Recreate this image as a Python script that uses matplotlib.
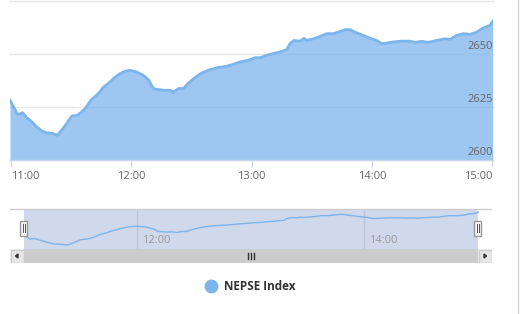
import matplotlib
matplotlib.use("Agg")
from matplotlib import pyplot as plt
from matplotlib.patches import Rectangle
from matplotlib.lines import Line2D
import numpy as np

# minutes after 11:00 and NEPSE index values
minutes = [-0.5, 3.3, 5.8, 7.8, 10.3, 12.8, 15.3, 17.8, 20.8, 23.1, 25.3, 27.8, 30.3,
           33.1, 35.3, 37.4, 39.8, 43.6, 46.0, 49.4, 51.9, 54.4, 56.9, 59.4, 62.7,
           66.0, 68.5, 71.0, 73.5, 76.8, 79.3, 81.0, 83.5, 86.0, 88.5, 91.8, 95.1,
           99.3, 103.4, 107.6, 110.9, 114.2, 118.4, 121.7, 124.2, 127.5, 130.8,
           134.2, 137.5, 139.2, 141.1, 144.2, 146.2, 147.5, 150.8, 153.3, 157.5,
           160.8, 163.3, 166.7, 169.1, 171.6, 175.7, 179.9, 182.4, 184.9, 187.4,
           190.7, 194.9, 199.0, 201.5, 204.9, 208.2, 212.3, 216.5, 219.0, 222.3,
           225.6, 229.0, 232.3, 234.8, 237.4, 239.0, 240.3]
index = [2628.1, 2621.4, 2622.2, 2620.0, 2618.0, 2615.6, 2613.7, 2612.8, 2612.5, 2611.6,
         2614.1, 2617.2, 2620.6, 2621.1, 2622.6, 2624.7, 2628.1, 2631.3, 2634.1, 2636.7,
         2639.0, 2640.6, 2641.7, 2642.2, 2641.4, 2639.8, 2637.8, 2633.6, 2633.1, 2632.8,
         2632.8, 2631.9, 2633.6, 2633.6, 2636.2, 2638.8, 2640.9, 2642.5, 2643.5, 2644.1,
         2645.0, 2646.1, 2646.9, 2648.1, 2648.1, 2649.2, 2650.0, 2650.8, 2651.9, 2654.7,
         2656.2, 2655.9, 2657.2, 2656.2, 2657.0, 2657.8, 2659.4, 2659.4, 2660.1, 2661.3,
         2661.3, 2660.1, 2658.6, 2657.0, 2656.2, 2654.7, 2655.0, 2655.5, 2655.9, 2655.9,
         2655.3, 2655.8, 2655.3, 2656.2, 2657.0, 2656.7, 2658.6, 2659.4, 2659.1, 2660.1,
         2661.7, 2662.8, 2663.3, 2665.3]
x_ticks = [0, 60, 120, 180, 240]
x_labels = ["11:00", "12:00", "13:00", "14:00", "15:00"]
y_ticks = [2600, 2625, 2650, 2675]
nav_ticks = [60, 180]
nav_labels = ["12:00", "14:00"]
series_name = "NEPSE Index"

plt.rcParams['font.family'] = ['Open Sans', 'DejaVu Sans']
W, H = 522, 314
fig = plt.figure(figsize=(W / 100, H / 100), dpi=100)

def px_axes(x0, y0, x1, y1):
    # pixel box (top-left origin) -> figure axes
    return fig.add_axes([x0 / W, 1 - y1 / H, (x1 - x0) / W, (y1 - y0) / H])

blue = '#7cb5ec'

# main chart
ax = px_axes(10, 0.5, 492.7, 160)
ax.fill_between(minutes, index, 2590, color=blue, alpha=0.75, lw=0)
ax.plot(minutes, index, color=blue, lw=2, solid_joinstyle='round')
ax.set_xlim(minutes[0], minutes[-1])
ax.set_ylim(2600, 2675)
for v in y_ticks:
    ax.axhline(v, color='#e6e6e6', lw=1, zorder=0, clip_on=False)
for v in y_ticks[:-1]:
    ax.text(minutes[-1], v + 0.9, str(v), ha='right', va='bottom',
            fontsize=8, color='#666666')
for s in ax.spines.values():
    s.set_visible(False)
ax.axhline(2600, color='#ccd6eb', lw=1, clip_on=False)
ax.set_yticks([])
ax.set_xticks(x_ticks)
ax.set_xticklabels(x_labels, fontsize=8, color='#666666')
ax.tick_params(axis='x', length=5, color='#ccd6eb', pad=3)
labs = ax.get_xticklabels()
labs[0].set_ha('left')
labs[-1].set_ha('right')

# navigator
nav = px_axes(10, 209, 491, 249)
nav.set_xlim(-7.3, 247.0)
nav.set_ylim(2605.1, 2670.2)
nav.add_patch(Rectangle((0, 2605.1), 240, 65.1, color='#667fc2', alpha=0.3, lw=0))
for t, lab in zip(nav_ticks, nav_labels):
    nav.axvline(t, color='#e6e6e6', lw=1, zorder=0.5)
    nav.text(t + 2.5, 2610, lab, fontsize=8, color='#999999', va='bottom', ha='left')
nav.plot(minutes, index, color=blue, lw=1)
for s in nav.spines.values():
    s.set_visible(False)
nav.axhline(2670.2, color='#cccccc', lw=1, clip_on=False)
nav.set_xticks([])
nav.set_yticks([])
for hx in [0, 240]:
    nav.add_patch(Rectangle((hx - 1.9, 2625.8), 3.8, 25.6,
                            facecolor='#f7f7f7', edgecolor='#999999', lw=1, zorder=5))
    nav.plot([hx - 0.6, hx - 0.6], [2632, 2645], color='#555555', lw=0.7, zorder=6)
    nav.plot([hx + 0.6, hx + 0.6], [2632, 2645], color='#555555', lw=0.7, zorder=6)

# scrollbar
sb = px_axes(10, 249, 492, 263)
sb.set_xlim(10, 492)
sb.set_ylim(14, 0)
sb.axis('off')
sb.add_patch(Rectangle((10, 0), 482, 14, facecolor='#f2f2f2', lw=0))
sb.add_patch(Rectangle((23, 0), 455, 14, facecolor='#cccccc', lw=0))
for bx in [10, 478]:
    sb.add_patch(Rectangle((bx + 0.5, 0.5), 13, 13, facecolor='#e6e6e6',
                           edgecolor='#cccccc', lw=1))
sb.fill([18.0, 18.0, 15.5], [5, 9, 7], color='#333333')
sb.fill([484.0, 484.0, 486.5], [5, 9, 7], color='#333333')
for rx in [248, 251, 254]:
    sb.plot([rx, rx], [4, 10], color='#333333', lw=1)

# legend
fig.add_artist(Line2D([210.7 / W], [1 - 286 / H], marker='o', markersize=9,
                      color=blue, transform=fig.transFigure))
fig.text(224 / W, 1 - 286 / H, series_name, fontsize=8.5, fontweight='bold',
         color='#333333', va='center', ha='left')

# page border at right
fig.add_artist(Line2D([517.5 / W, 517.5 / W], [0, 1], color='#d8d8d8', lw=1))

fig.savefig('out.png', dpi=100)
